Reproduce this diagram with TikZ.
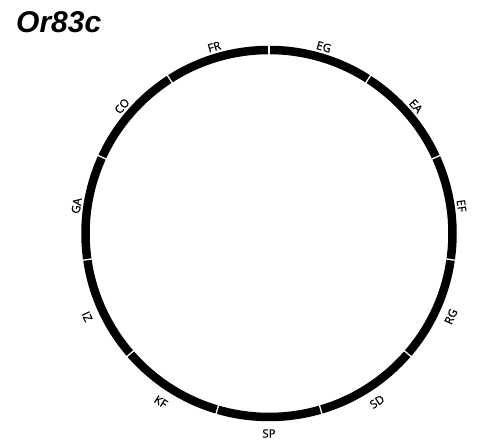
\documentclass[tikz,border=0pt]{standalone}
\usepackage{fontspec}
\setmainfont{Open Sans}
\newfontfamily\lblfont[FakeBold=0.7]{Open Sans}
\newfontfamily\titlefont{Liberation Sans}
\begin{document}
\begin{tikzpicture}[x=1pt,y=1pt,
  lbl/.style={font=\lblfont\fontsize{11.5}{13}\selectfont, inner sep=0pt},
  ring/.style={line width=8.5pt, black},
  gap/.style={white, line width=1.3pt}]
\useasboundingbox (0,0) rectangle (483,443);
\coordinate (c) at (269,209.5);
\draw[ring] (c) circle[radius=183.5];
\foreach \k in {0,...,10} {
  \pgfmathsetmacro\a{90+\k*360/11}
  \coordinate (gi\k) at ([shift={(\a:178)}]c);
  \coordinate (go\k) at ([shift={(\a:189)}]c);
  \draw[gap] (gi\k) -- (go\k);
}
\foreach \t [count=\k from 0] in {EG,EA,EF,RG,SD,SP,KF,IZ,GA,CO,FR} {
  \pgfmathsetmacro\a{90-(\k+0.5)*360/11}
  \pgfmathsetmacro\r{ifthenelse(sin(\a)>0,\a-90,\a+90)}
  \pgfmathsetmacro\rad{ifthenelse(sin(\a)>0,194.5,200)}
  \node[lbl, rotate=\r] (l\k) at ([shift={(\a:\rad)}]c) {\t};
}
\node[font=\titlefont\bfseries\itshape\fontsize{30}{36}\selectfont, anchor=base west, inner sep=0pt] (title) at (16,410) {Or83c};
\end{tikzpicture}
\end{document}
